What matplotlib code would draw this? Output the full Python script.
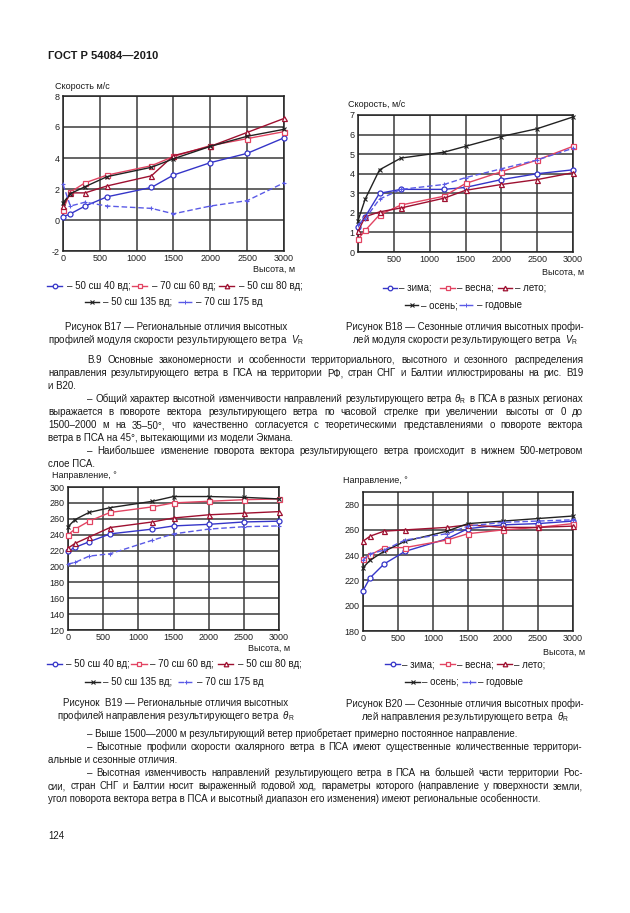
import matplotlib
matplotlib.use("Agg")
import matplotlib.pyplot as plt
from matplotlib.lines import Line2D

plt.rcParams['font.family'] = ['Liberation Sans', 'DejaVu Sans']
plt.rcParams['mathtext.fontset'] = 'custom'
plt.rcParams['mathtext.rm'] = 'Liberation Sans'
plt.rcParams['mathtext.it'] = 'Liberation Sans:italic'
plt.rcParams['axes.unicode_minus'] = False

# ---------------- data ----------------
heights = [0, 100, 300, 600, 1200, 1500, 2000, 2500, 3000]
x_ticks = [0, 500, 1000, 1500, 2000, 2500, 3000]

# Fig B17: regional speed profiles, m/s
speed_50n40e = [0.2, 0.4, 0.9, 1.5, 2.1, 2.9, 3.7, 4.3, 5.3]
speed_70n60e = [0.65, 1.8, 2.4, 2.9, 3.5, 4.1, 4.8, 5.25, 5.7]
speed_50n80e = [0.9, 1.75, 1.75, 2.2, 2.85, 4.15, 4.75, 5.65, 6.55]
speed_50n135e = [1.1, 1.7, 2.15, 2.8, 3.4, 3.95, 4.75, 5.4, 5.85]
speed_70n175e = [2.3, 0.9, 1.15, 0.9, 0.75, 0.4, 0.9, 1.25, 2.4]
b17_labels = ["– 50 сш 40 вд;", "– 70 сш 60 вд;", "– 50 сш 80 вд;",
              "– 50 сш 135 вд;", "– 70 сш 175 вд"]

# Fig B18: seasonal speed profiles, m/s
speed_winter = [1.3, 1.8, 3.0, 3.2, 3.2, 3.3, 3.7, 4.0, 4.2]
speed_spring = [0.65, 1.1, 1.9, 2.4, 2.85, 3.5, 4.1, 4.7, 5.4]
speed_summer = [1.05, 1.8, 2.05, 2.25, 2.75, 3.15, 3.45, 3.7, 4.05]
speed_autumn = [1.6, 2.7, 4.2, 4.8, 5.1, 5.4, 5.9, 6.3, 6.9]
speed_annual = [1.4, 1.7, 2.7, 3.2, 3.45, 3.8, 4.25, 4.7, 5.3]
season_labels = ["– зима;", "– весна;", "– лето;", "– осень;", "– годовые"]

# Fig B19: regional direction profiles, deg
dir_50n40e = [219, 224, 231, 241, 247, 251, 253, 256, 257]
dir_70n60e = [240, 247, 257, 268, 275, 280, 282, 284, 285]
dir_50n80e = [223, 229, 237, 249, 256, 261, 265, 267, 269]
dir_50n135e = [250, 259, 268, 274, 282, 288, 288, 287, 285]
dir_70n175e = [203, 205, 213, 216, 233, 241, 247, 250, 251]

# Fig B20: seasonal direction profiles, deg
dir_winter = [212, 222, 233, 243, 253, 261, 264, 265, 267]
dir_spring = [237, 240, 246, 246, 252, 257, 260, 262, 265]
dir_summer = [251, 255, 259, 260, 262, 264, 262, 262, 263]
dir_autumn = [230, 236, 243, 251, 259, 265, 267, 269, 271]
dir_annual = [236, 241, 244, 252, 257, 263, 266, 267, 268]

# ---------------- styles ----------------
BLUE = '#3535c8'
RED = '#e24462'
DRED = '#9e1030'
BLACK = '#222222'
LBLUE = '#5a5ae6'
styles = [
    dict(color=BLUE, marker='o', ls='-'),
    dict(color=RED, marker='s', ls='-'),
    dict(color=DRED, marker='^', ls='-'),
    dict(color=BLACK, marker='x', ls='-'),
    dict(color=LBLUE, marker='+', ls=(0, (4, 2))),
]

W, H = 630, 913
fig = plt.figure(figsize=(W / 100, H / 100), dpi=100)
fig.patch.set_facecolor('white')
renderer = fig.canvas.get_renderer()

FS = 7.0
TFS = 6.5


def fx(x):
    return x / W


def fy(y):
    return 1 - y / H


def ftext(x, y, s, size=FS, ha='left', va='baseline', **kw):
    return fig.text(fx(x), fy(y), s, fontsize=size, ha=ha, va=va, color='#1a1a1a', **kw)


def jline(x0, x1, y, s, size=FS):
    words = s.split(' ')
    objs = [fig.text(0, 0, w, fontsize=size, va='baseline', ha='left', color='#1a1a1a')
            for w in words]
    widths = [o.get_window_extent(renderer).width for o in objs]
    gap = (x1 - x0 - sum(widths)) / max(len(words) - 1, 1)
    x = x0
    for o, w in zip(objs, widths):
        o.set_position((fx(x), fy(y)))
        x += w + gap


def mk_style(st, ms):
    mk = st['marker']
    filled = mk in ('x', '+')
    return dict(color=st['color'], ls=st['ls'], lw=1.0, marker=mk,
                ms=ms if not filled else ms - 0.2,
                mfc=st['color'] if filled else 'white', mec=st['color'],
                mew=0.9 if not filled else 0.8)


def make_axes(l, t, r, b, ylim, yticks, series, ytick_labels=None, xtick_labels=None):
    ax = fig.add_axes([fx(l), fy(b), fx(r) - fx(l), fy(t) - fy(b)])
    for vals, st in zip(series, styles):
        ax.plot(heights, vals, **mk_style(st, 3.6), clip_on=False, zorder=3)
    ax.set_xlim(0, 3000)
    ax.set_ylim(*ylim)
    ax.set_xticks(x_ticks)
    ax.set_yticks(yticks)
    if ytick_labels is not None:
        ax.set_yticklabels(ytick_labels)
    if xtick_labels is not None:
        ax.set_xticklabels(xtick_labels)
    ax.grid(True, color='#3a3a3a', lw=1.1)
    ax.set_axisbelow(True)
    for sp in ax.spines.values():
        sp.set_linewidth(1.1)
        sp.set_color('#222222')
    ax.tick_params(length=0, labelsize=TFS, pad=2.5, colors='#222222')
    return ax


def legend_item(x0, x1, y, st, label, tx):
    xm = (x0 + x1) / 2
    ln = Line2D([fx(x0), fx(x1)], [fy(y), fy(y)], transform=fig.transFigure,
                color=st['color'], lw=1.0, ls=st['ls'])
    fig.add_artist(ln)
    mkst = mk_style(st, 3.3)
    mk = Line2D([fx(xm)], [fy(y)], transform=fig.transFigure, ls='none',
                marker=mkst['marker'], ms=mkst['ms'], mfc=mkst['mfc'],
                mec=mkst['mec'], mew=mkst['mew'])
    fig.add_artist(mk)
    ftext(tx, y, label, size=FS, va='center')


# ---------------- header ----------------
ftext(48, 59, "ГОСТ Р 54084—2010", size=8, weight='bold')

# ---------------- B17 ----------------
make_axes(63, 96, 284, 251, (-2, 8), [-2, 0, 2, 4, 6, 8],
          [speed_50n40e, speed_70n60e, speed_50n80e, speed_50n135e, speed_70n175e])
ftext(55, 89, "Скорость м/с", size=TFS)
ftext(295, 272, "Высота, м", size=TFS, ha='right')
legend_item(47, 62, 286, styles[0], b17_labels[0], 67)
legend_item(132, 147, 286, styles[1], b17_labels[1], 152)
legend_item(219, 234, 286, styles[2], b17_labels[2], 239)
legend_item(85, 99, 302, styles[3], b17_labels[3], 103)
legend_item(178, 192, 302, styles[4], b17_labels[4], 196)

# ---------------- B18 ----------------
make_axes(358, 115, 573, 252, (0, 7), [0, 1, 2, 3, 4, 5, 6, 7],
          [speed_winter, speed_spring, speed_summer, speed_autumn, speed_annual],
          xtick_labels=[''] + [str(v) for v in x_ticks[1:]])
ftext(348, 107, "Скорость, м/с", size=TFS)
ftext(584, 275, "Высота, м", size=TFS, ha='right')
legend_item(383, 397, 288, styles[0], season_labels[0], 399)
legend_item(440, 455, 288, styles[1], season_labels[1], 457)
legend_item(498, 512, 288, styles[2], season_labels[2], 515)
legend_item(405, 418, 305, styles[3], season_labels[3], 421)
legend_item(459, 473, 305, styles[4], season_labels[4], 477)

# ---------------- captions B17/B18 ----------------
ftext(176, 330, "Рисунок В17 — Региональные отличия высотных", ha='center')
ftext(176, 343, r"профилей модуля скорости результирующего ветра  $V_\mathrm{R}$", ha='center')
ftext(465, 330, "Рисунок В18 — Сезонные отличия высотных профи-", ha='center')
ftext(465, 343, r"лей модуля скорости результирующего ветра  $V_\mathrm{R}$", ha='center')

# ---------------- body text 1 ----------------
L, R = 48, 583
IND = 87
jline(IND, R, 363, "В.9 Основные закономерности и особенности территориального, высотного и сезонного распределения")
jline(L, R, 376, "направления результирующего ветра в ПСА на территории РФ, стран СНГ и Балтии иллюстрированы на рис. В19")
ftext(L, 389, "и В20.")
jline(IND, R, 402, r"– Общий характер высотной изменчивости направлений результирующего ветра $\theta_\mathrm{R}$ в ПСА в разных регионах")
jline(L, R, 415, "выражается в повороте вектора результирующего ветра по часовой стрелке при увеличении высоты от 0 до")
jline(L, R, 428, "1500–2000 м на 35–50°, что качественно согласуется с теоретическими представлениями о повороте вектора")
ftext(L, 441, "ветра в ПСА на 45°, вытекающими из модели Экмана.")
jline(IND, R, 454, "– Наибольшее изменение поворота вектора результирующего ветра происходит в нижнем 500-метровом")
ftext(L, 467, "слое ПСА.")

# ---------------- B19 ----------------
make_axes(68, 487, 279, 630, (120, 300), list(range(120, 301, 20)),
          [dir_50n40e, dir_70n60e, dir_50n80e, dir_50n135e, dir_70n175e])
ftext(52, 478, "Направление, °", size=TFS)
ftext(290, 651, "Высота, м", size=TFS, ha='right')
legend_item(47, 62, 664, styles[0], b17_labels[0], 66)
legend_item(131, 147, 664, styles[1], b17_labels[1], 150)
legend_item(218, 233, 664, styles[2], b17_labels[2], 238)
legend_item(85, 100, 682, styles[3], b17_labels[3], 103)
legend_item(178, 193, 682, styles[4], b17_labels[4], 197)

# ---------------- B20 ----------------
make_axes(363, 492, 573, 631, (180, 290), list(range(180, 281, 20)),
          [dir_winter, dir_spring, dir_summer, dir_autumn, dir_annual])
ftext(343, 483, "Направление, °", size=TFS)
ftext(585, 655, "Высота, м", size=TFS, ha='right')
legend_item(385, 400, 664, styles[0], season_labels[0], 402)
legend_item(440, 455, 664, styles[1], season_labels[1], 457)
legend_item(497, 512, 664, styles[2], season_labels[2], 514)
legend_item(405, 420, 682, styles[3], season_labels[3], 422)
legend_item(462, 477, 682, styles[4], season_labels[4], 478)

# ---------------- captions B19/B20 ----------------
ftext(176, 706, "Рисунок  В19 — Региональные отличия высотных", ha='center')
ftext(176, 719, r"профилей направления результирующего ветра  $\theta_\mathrm{R}$", ha='center')
ftext(465, 707, "Рисунок В20 — Сезонные отличия высотных профи-", ha='center')
ftext(465, 720, r"лей направления результирующего ветра  $\theta_\mathrm{R}$", ha='center')

# ---------------- body text 2 ----------------
ftext(IND, 737, "– Выше 1500—2000 м результирующий ветер приобретает примерно постоянное направление.")
jline(IND, R, 750, "– Высотные профили скорости скалярного ветра в ПСА имеют существенные количественные территори-")
ftext(L, 763, "альные и сезонные отличия.")
jline(IND, R, 776, "– Высотная изменчивость направлений результирующего ветра в ПСА на большей части территории Рос-")
jline(L, R, 789, "сии, стран СНГ и Балтии носит выраженный годовой ход, параметры которого (направление у поверхности земли,")
ftext(L, 802, "угол поворота вектора ветра в ПСА и высотный диапазон его изменения) имеют региональные особенности.")

ftext(48, 839, "124")

fig.savefig("out.png", dpi=100, facecolor='white')
